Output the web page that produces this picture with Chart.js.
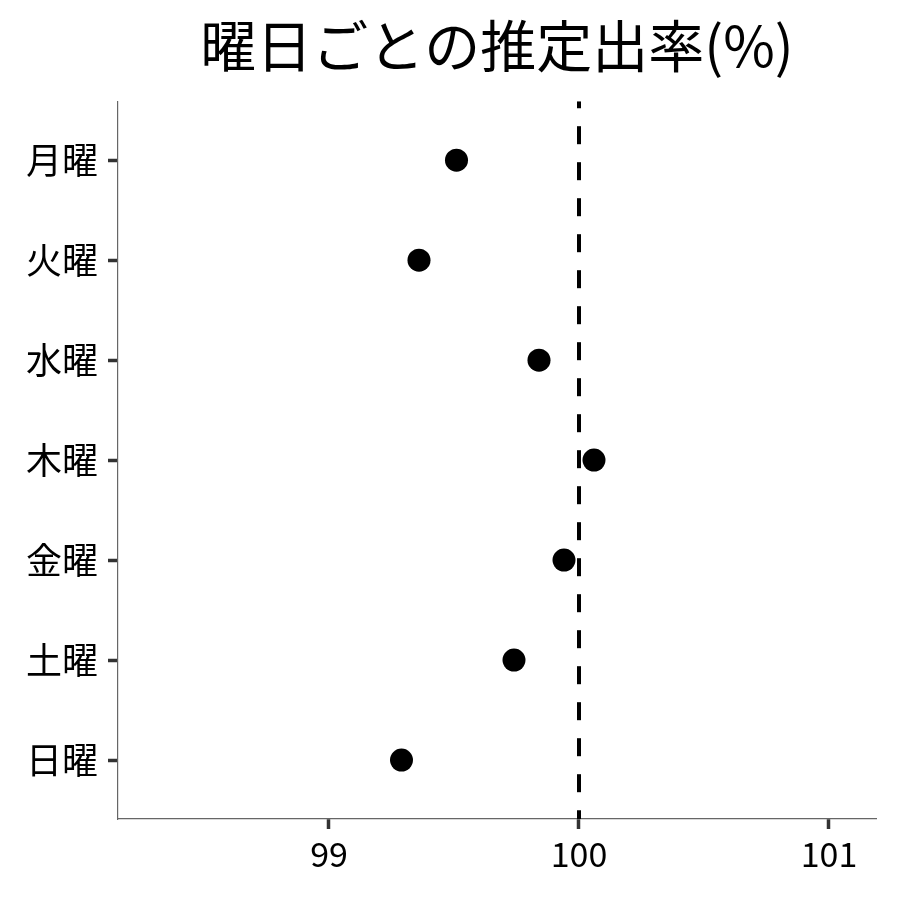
<!DOCTYPE html>
<html>
<head>
<meta charset="utf-8">
<script src="https://cdn.jsdelivr.net/npm/chart.js@4.4.1/dist/chart.umd.min.js"></script>
<style>
  html, body { margin: 0; padding: 0; background: #fff; }
  #wrap { width: 900px; height: 900px; }
</style>
</head>
<body>
<div id="wrap"><canvas id="chart" width="900" height="900"></canvas></div>
<script>
const days = ['月曜', '火曜', '水曜', '木曜', '金曜', '土曜', '日曜'];
const rates = [99.51, 99.36, 99.84, 100.06, 99.94, 99.74, 99.29];
const xTicks = [99, 100, 101];
const refValue = 100;

const FONT = "'Noto Sans CJK JP', 'Noto Sans', sans-serif";

const points = rates.map((v, i) => ({ x: v, y: i }));
const yMin = -0.59, yMax = days.length - 1 + 0.59;

new Chart(document.getElementById('chart'), {
    type: 'scatter',
    data: {
        datasets: [
            {
                type: 'line',
                data: [{ x: refValue, y: yMin }, { x: refValue, y: yMax }],
                borderColor: '#000',
                borderWidth: 4,
                borderDash: [18, 18],
                borderDashOffset: 11,
                pointRadius: 0,
                fill: false
            },
            {
                data: points,
                backgroundColor: '#000',
                borderWidth: 0,
                pointRadius: 11.5,
                pointHoverRadius: 11.5
            }
        ]
    },
    options: {
        responsive: false,
        animation: false,
        layout: { padding: { left: 0, right: 24, top: 0, bottom: 0 } },
        plugins: {
            legend: { display: false },
            tooltip: { enabled: false },
            title: {
                display: true,
                fullSize: false,
                text: '曜日ごとの推定出率(%)',
                color: '#000',
                font: { family: FONT, size: 56, weight: 'normal', lineHeight: 1.2 },
                padding: { top: 12, bottom: 22 }
            }
        },
        scales: {
            x: {
                type: 'linear',
                min: 98.156,
                max: 101.188,
                afterBuildTicks: s => { s.ticks = xTicks.map(v => ({ value: v })); },
                afterFit: s => { s.height = 81; },
                ticks: {
                    color: '#000',
                    padding: 5,
                    font: { family: FONT, size: 34 },
                    callback: v => v
                },
                grid: {
                    drawOnChartArea: false,
                    drawTicks: true,
                    tickLength: 10,
                    tickWidth: 3.5,
                    tickColor: '#333'
                },
                border: { display: true, color: '#666', width: 1.2 }
            },
            y: {
                type: 'linear',
                reverse: true,
                min: yMin,
                max: yMax,
                afterBuildTicks: s => { s.ticks = days.map((d, i) => ({ value: i })); },
                afterFit: s => { s.width = 118; },
                ticks: {
                    color: '#000',
                    padding: 10,
                    font: { family: FONT, size: 36 },
                    callback: v => days[v]
                },
                grid: {
                    drawOnChartArea: false,
                    drawTicks: true,
                    tickLength: 10,
                    tickWidth: 3.5,
                    tickColor: '#333'
                },
                border: { display: true, color: '#666', width: 1.2 }
            }
        }
    }
});
</script>
</body>
</html>
